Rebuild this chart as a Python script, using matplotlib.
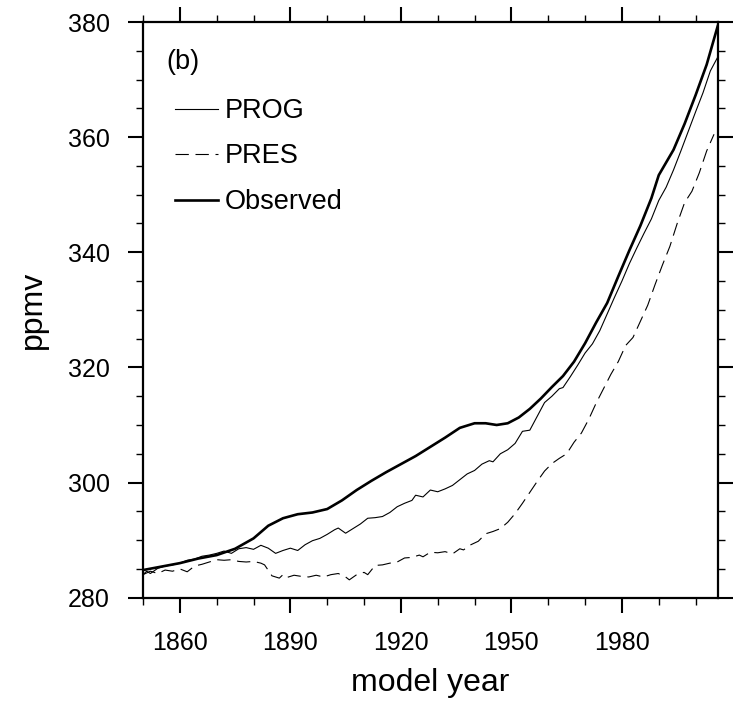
import matplotlib
matplotlib.use('Agg')
import matplotlib.pyplot as plt
from matplotlib.ticker import MultipleLocator

plt.rcParams['font.family'] = ['Liberation Sans', 'DejaVu Sans']

# observed CO2 (thick line)
obs_years = [1850, 1855, 1860, 1865, 1870, 1875, 1880, 1884, 1888, 1892, 1896, 1900,
             1904, 1908, 1912, 1916, 1920, 1924, 1928, 1932, 1936, 1940, 1943, 1946,
             1949, 1952, 1955, 1958, 1961, 1964, 1967, 1970, 1973, 1976, 1979, 1982,
             1985, 1988, 1990, 1992, 1994, 1997, 2000, 2003, 2006]
obs_ppmv = [284.8, 285.4, 286.0, 286.8, 287.4, 288.5, 290.3, 292.5, 293.8, 294.5, 294.8, 295.4,
            296.9, 298.7, 300.3, 301.8, 303.2, 304.6, 306.2, 307.8, 309.5, 310.3, 310.3, 310.0,
            310.3, 311.3, 312.8, 314.6, 316.6, 318.5, 321.0, 324.2, 327.8, 331.2, 335.8, 340.3,
            344.6, 349.4, 353.4, 355.6, 357.8, 362.3, 367.3, 372.6, 379.3]

# prognostic CO2 run (thin solid)
prog_years = [1850, 1851, 1852, 1854, 1856, 1858, 1860, 1862, 1864, 1866, 1868, 1870,
              1872, 1874, 1876, 1878, 1880, 1882, 1884, 1886, 1888, 1890, 1892, 1894,
              1896, 1898, 1900, 1902, 1903, 1905, 1907, 1909, 1911, 1913, 1915, 1917,
              1919, 1921, 1923, 1924, 1926, 1928, 1930, 1932, 1934, 1936, 1938, 1940,
              1942, 1944, 1945, 1947, 1949, 1951, 1953, 1955, 1957, 1959, 1961, 1963,
              1964, 1966, 1968, 1970, 1972, 1974, 1976, 1978, 1980, 1982, 1984, 1986,
              1988, 1990, 1992, 1994, 1996, 1998, 2000, 2002, 2004, 2006]
prog_ppmv = [284.0, 284.6, 284.2, 285.1, 285.5, 285.7, 286.0, 286.5, 286.7, 287.2, 287.4, 287.7,
             288.1, 287.7, 288.5, 288.7, 288.4, 289.1, 288.6, 287.7, 288.2, 288.6, 288.2, 289.2,
             289.9, 290.3, 291.0, 291.8, 292.1, 291.2, 292.0, 292.8, 293.8, 293.9, 294.1, 294.8,
             295.8, 296.4, 296.9, 297.8, 297.5, 298.7, 298.4, 298.9, 299.5, 300.5, 301.5, 302.1,
             303.2, 303.8, 303.6, 305.0, 305.7, 306.8, 308.9, 309.1, 311.5, 313.9, 315.0, 316.3,
             316.5, 318.4, 320.4, 322.5, 324.1, 326.4, 329.3, 332.2, 335.0, 338.0, 340.7, 343.3,
             345.8, 349.0, 351.3, 354.3, 357.6, 361.0, 364.4, 367.7, 371.5, 373.9]

# prescribed CO2 run (dashed)
pres_years = [1850, 1852, 1854, 1856, 1858, 1860, 1862, 1864, 1866, 1868, 1870, 1872,
              1874, 1876, 1878, 1880, 1882, 1883, 1885, 1887, 1888, 1889, 1891, 1893,
              1895, 1897, 1899, 1901, 1903, 1905, 1906, 1908, 1910, 1911, 1913, 1915,
              1917, 1919, 1921, 1923, 1925, 1926, 1928, 1930, 1932, 1934, 1936, 1937,
              1939, 1941, 1943, 1945, 1947, 1949, 1951, 1953, 1955, 1957, 1959, 1961,
              1963, 1965, 1967, 1969, 1971, 1973, 1975, 1977, 1979, 1981, 1983, 1985,
              1987, 1989, 1991, 1993, 1995, 1997, 1999, 2001, 2003, 2005]
pres_ppmv = [284.0, 284.6, 284.2, 284.8, 284.6, 285.0, 284.5, 285.5, 285.8, 286.2, 286.6, 286.5,
             286.6, 286.3, 286.2, 286.3, 286.0, 285.7, 283.8, 283.4, 284.0, 283.5, 283.9, 283.7,
             283.6, 283.9, 283.6, 284.0, 284.2, 283.6, 283.1, 284.0, 284.4, 284.0, 285.6, 285.7,
             286.0, 286.2, 286.9, 287.0, 287.4, 287.1, 287.9, 287.8, 288.0, 287.6, 288.5, 288.3,
             289.2, 289.8, 291.1, 291.5, 292.0, 293.1, 294.6, 296.4, 298.3, 300.2, 302.0, 303.3,
             304.2, 305.0, 307.0, 308.6, 311.0, 313.8, 316.3, 318.8, 321.0, 323.8, 325.2, 328.0,
             330.8, 334.4, 337.8, 341.0, 345.0, 348.6, 350.6, 353.8, 357.6, 360.5]

fig = plt.figure(figsize=(7.39, 7.03), dpi=100)
ax = fig.add_axes([0.1935, 0.1498, 0.7777, 0.8189])

ax.plot(prog_years, prog_ppmv, color='black', lw=0.8, label='PROG')
ax.plot(pres_years, pres_ppmv, color='black', lw=0.8, linestyle=(0, (12, 6)), label='PRES')
ax.plot(obs_years, obs_ppmv, color='black', lw=1.9, label='Observed')

ax.set_xlim(1850, 2006)
ax.set_ylim(280, 380)
ax.xaxis.set_minor_locator(MultipleLocator(10))
ax.set_xticks([1860, 1890, 1920, 1950, 1980])
ax.yaxis.set_major_locator(MultipleLocator(20))
ax.yaxis.set_minor_locator(MultipleLocator(5))

for s in ax.spines.values():
    s.set_linewidth(1.6)
ax.tick_params(which='both', direction='out', top=True, right=True,
               labeltop=False, labelright=False)
ax.tick_params(which='major', length=11, width=1.5, labelsize=18, pad=13)
ax.tick_params(which='minor', length=5, width=1.0)

ax.set_xlabel('model year', fontsize=23, labelpad=9)
ax.set_ylabel('ppmv', fontsize=23, labelpad=14)

ax.text(0.040, 0.9305, '(b)', transform=ax.transAxes, fontsize=19.5, va='center', ha='left')
ax.legend(loc='upper left', bbox_to_anchor=(0.0557, 0.868), frameon=False,
          fontsize=19.5, handlelength=1.59, handletextpad=0.26, labelspacing=0.72,
          borderpad=0, borderaxespad=0)

fig.savefig('out.png', dpi=100)
